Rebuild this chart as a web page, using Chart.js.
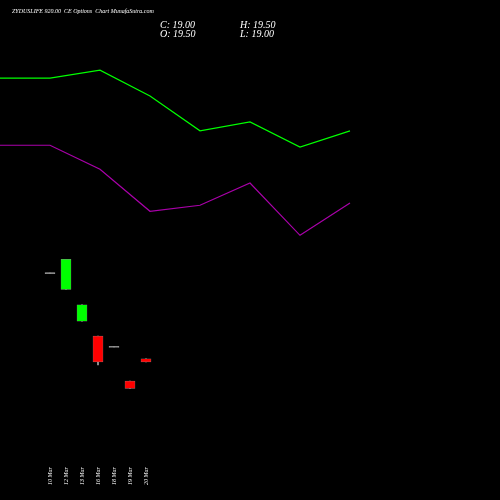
<!DOCTYPE html>
<html><head><script src="https://cdn.jsdelivr.net/npm/chart.js@4"></script>
<style>html,body{margin:0;background:#000}#c{display:block}</style></head>
<body><div style="width:500px;height:500px"><canvas id="c"></canvas></div>
<script>
const lineX = [0, 50, 100, 150, 200, 250, 300, 350];
const greenLine = [66, 66, 67.3, 63, 57.2, 58.7, 54.5, 57.2];
const purpleLine = [54.8, 54.8, 50.8, 43.8, 44.8, 48.5, 39.8, 45.2];
const dates = ["10 Mar", "12 Mar", "13 Mar", "16 Mar", "18 Mar", "19 Mar", "20 Mar"];
const candleX = [50, 66, 82, 98, 114, 130, 146];
const opens = [33.5, 30.8, 25.5, 23.0, 21.2, 15.5, 19.2];
const closes = [33.5, 35.8, 28.2, 18.7, 21.2, 14.3, 18.7];
const highs = [33.5, 35.8, 28.2, 23.0, 21.2, 15.5, 19.2];
const lows = [33.5, 30.8, 25.5, 18.2, 21.2, 14.3, 18.7];

const bodyColor = (i) => opens[i] === closes[i] ? "#aaaaaa" : closes[i] > opens[i] ? "#00ff00" : "#ff0000";
const bodies = candleX.map((x, i) => ({
  x, y: opens[i] === closes[i] ? [opens[i] - 0.1, opens[i] + 0.1] : [opens[i], closes[i]]
}));
const wicks = candleX.map((x, i) => ({ x, y: [lows[i], highs[i]] }));

const textPlugin = {
  id: "texts",
  afterDraw(chart) {
    const ctx = chart.ctx, xs = chart.scales.x;
    ctx.save();
    ctx.fillStyle = "#ffffff";
    ctx.font = "italic 6px 'Liberation Serif'";
    ctx.fillText("ZYDUSLIFE 920.00  CE Options  Chart MunafaSutra.com", 12, 13);
    ctx.font = "italic 10px 'Liberation Serif'";
    ctx.fillText("C: 19.00", 160, 28);
    ctx.fillText("O: 19.50", 160, 37);
    ctx.fillText("H: 19.50", 240, 28);
    ctx.fillText("L: 19.00", 240, 37);
    ctx.font = "italic 6px 'Liberation Serif'";
    dates.forEach((d, i) => {
      ctx.save();
      ctx.translate(xs.getPixelForValue(candleX[i]) + 2, 485);
      ctx.rotate(-Math.PI / 2);
      ctx.fillText(d, 0, 0);
      ctx.restore();
    });
    ctx.restore();
  }
};

new Chart(document.getElementById("c"), {
  data: {
    datasets: [
      { type: "line", data: lineX.map((x, i) => ({ x, y: greenLine[i] })), borderColor: "#00ff00", borderWidth: 1.2, pointRadius: 0 },
      { type: "line", data: lineX.map((x, i) => ({ x, y: purpleLine[i] })), borderColor: "#aa00aa", borderWidth: 1.2, pointRadius: 0 },
      { type: "bar", data: wicks, backgroundColor: "#aaaaaa", barThickness: 1, grouped: false, order: 2 },
      { type: "bar", data: bodies, backgroundColor: candleX.map((_, i) => bodyColor(i)),
        borderColor: "#888888", borderWidth: 0.5, borderSkipped: false, barThickness: 10, grouped: false, order: 1 }
    ]
  },
  plugins: [textPlugin],
  options: {
    animation: false, responsive: true, maintainAspectRatio: false,
    layout: { padding: 0 },
    plugins: { legend: { display: false }, tooltip: { enabled: false } },
    scales: {
      x: { type: "linear", min: 0, max: 500, display: false, offset: false },
      y: { min: -4.3, max: 79, display: false }
    }
  }
});
</script></body></html>
